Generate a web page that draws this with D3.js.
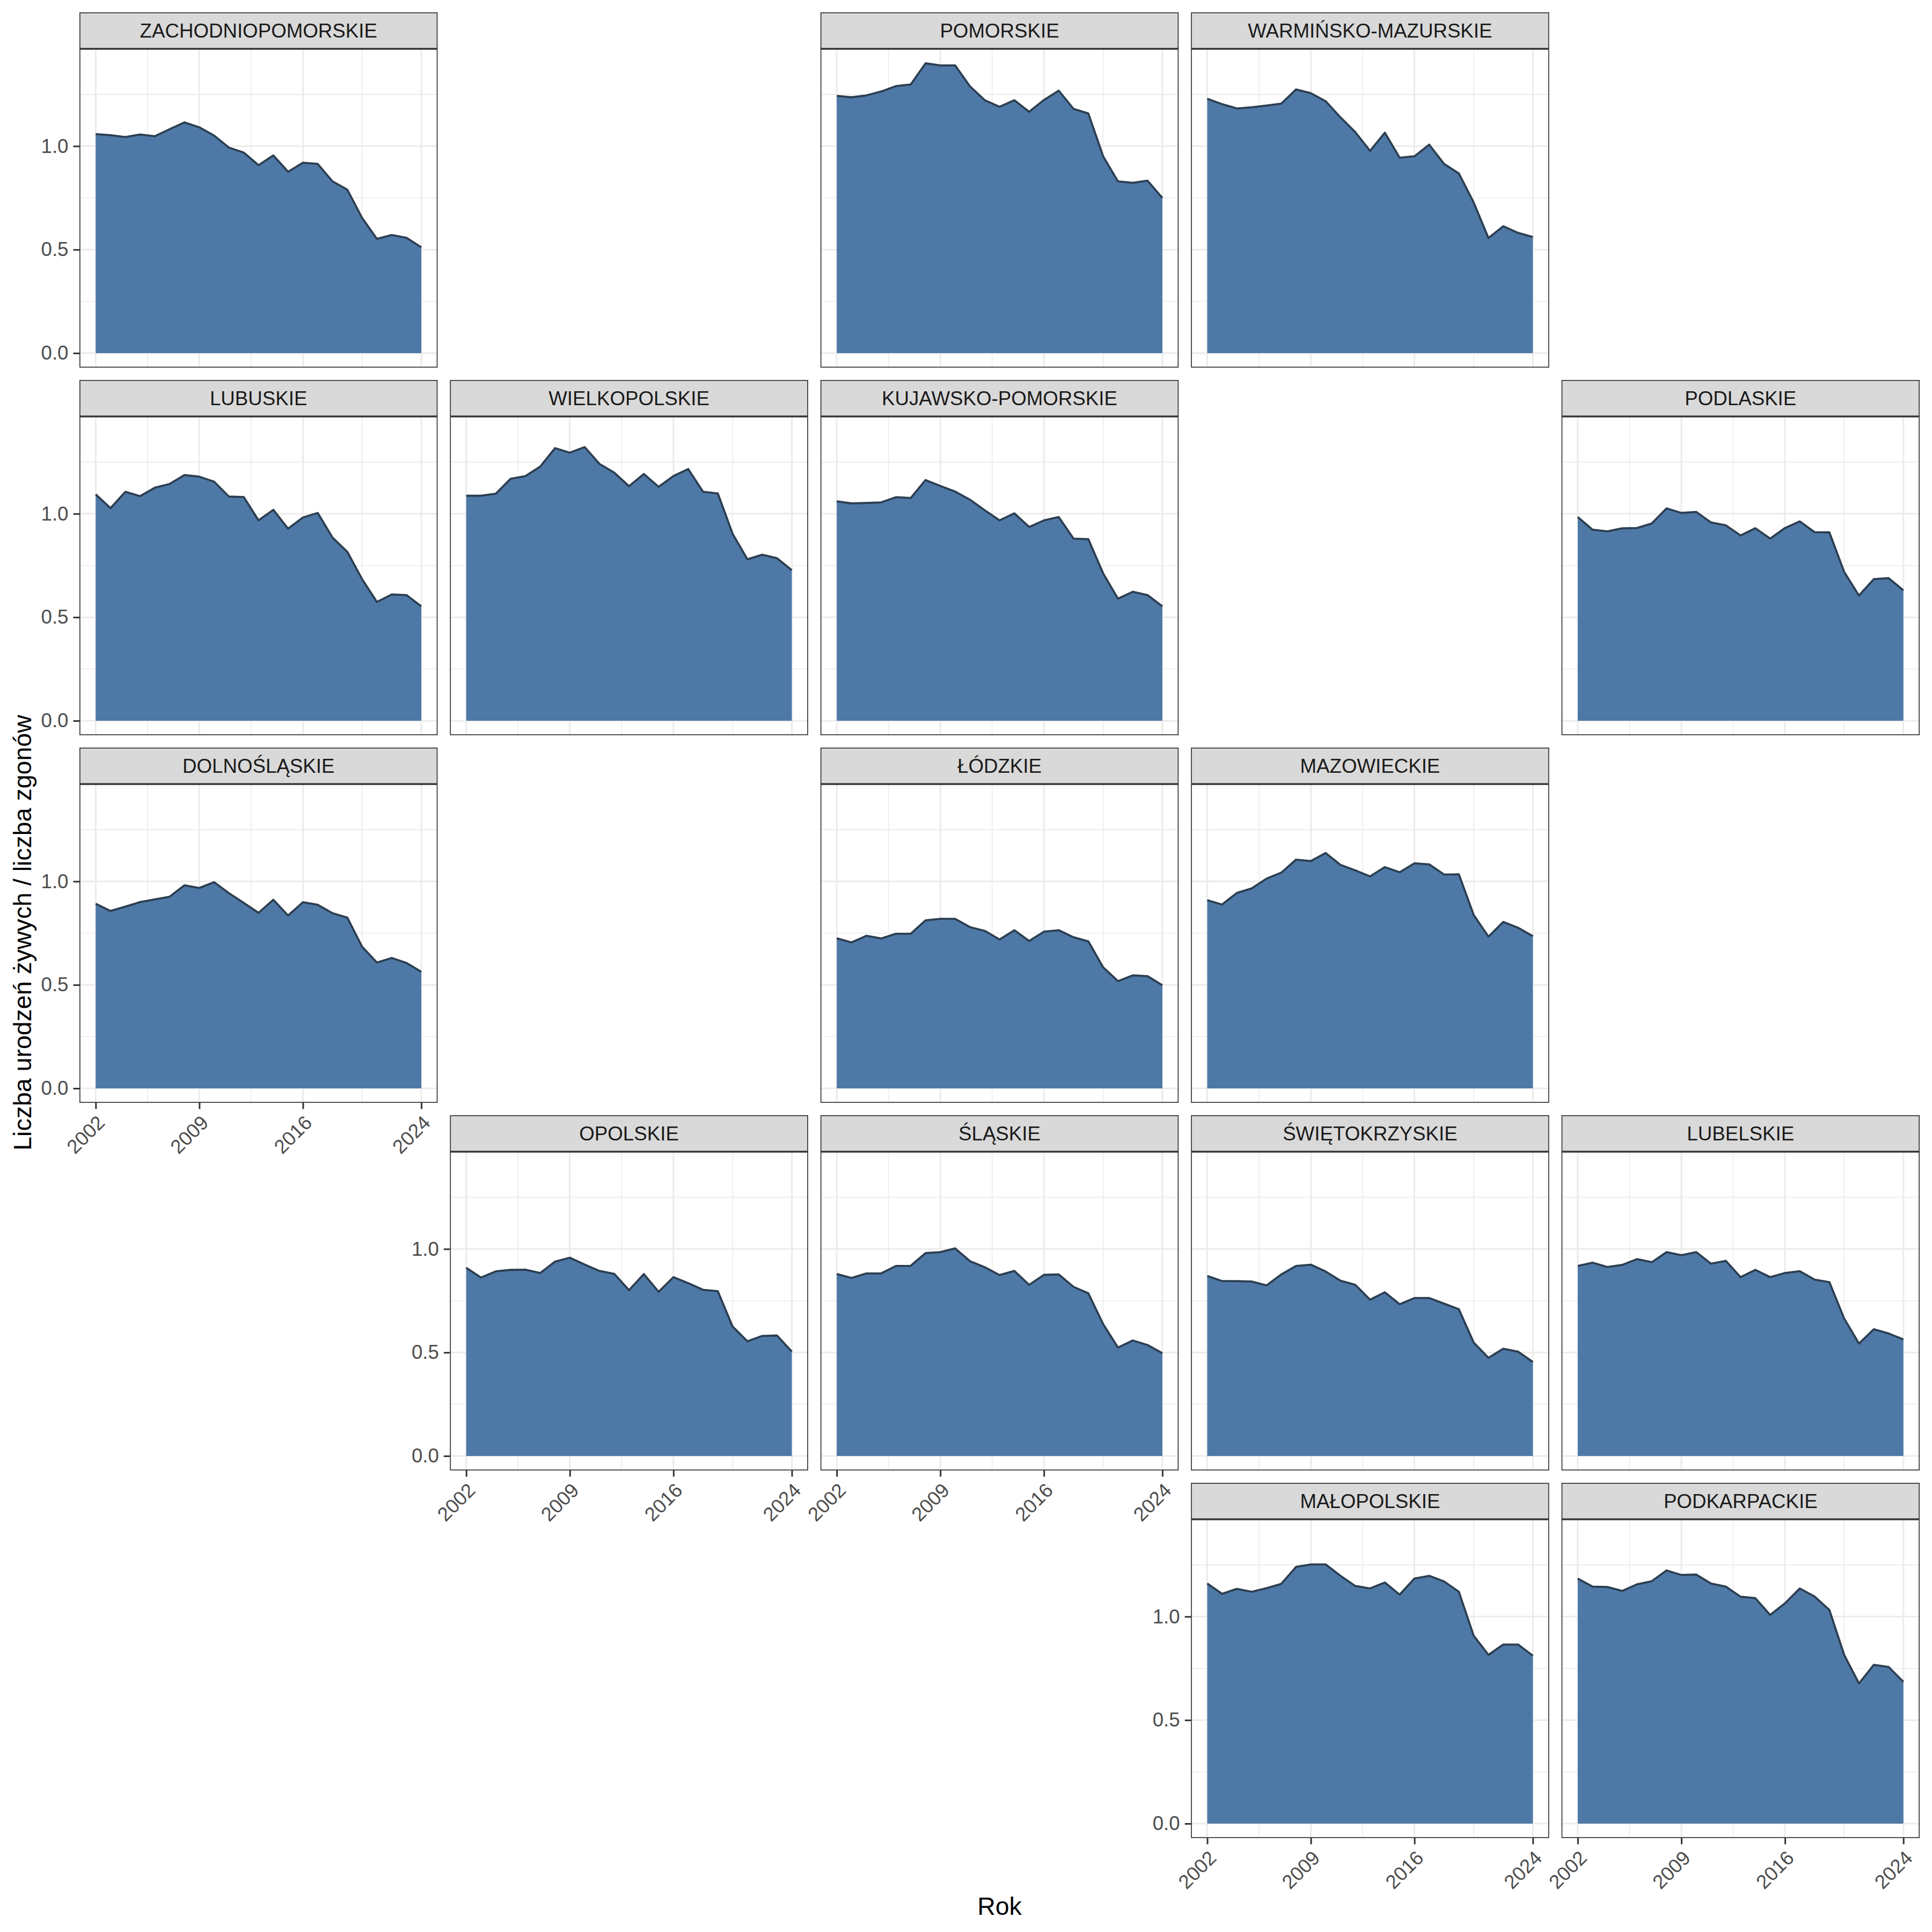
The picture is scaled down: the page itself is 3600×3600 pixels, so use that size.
<!DOCTYPE html>
<html>
<head>
<meta charset="utf-8">
<script src="https://cdn.jsdelivr.net/npm/d3@7"></script>
<style>
  body { margin: 0; background: #fff; }
</style>
</head>
<body>
<div id="chart"></div>
<script>
(function() {

  // ---- data: births / deaths ratio by voivodeship, 2002-2024 ----
  var years = [2002, 2003, 2004, 2005, 2006, 2007, 2008, 2009, 2010, 2011, 2012,
               2013, 2014, 2015, 2016, 2017, 2018, 2019, 2020, 2021, 2022, 2023, 2024]

  var zachodniopomorskie = [1.058, 1.053, 1.044, 1.056, 1.048, 1.082, 1.115, 1.091, 1.051, 0.993, 0.969, 0.908, 0.955, 0.876, 0.920, 0.914, 0.830, 0.790, 0.653, 0.552, 0.571, 0.557, 0.511]
  var pomorskie = [1.243, 1.236, 1.245, 1.264, 1.290, 1.298, 1.400, 1.390, 1.390, 1.289, 1.222, 1.190, 1.222, 1.166, 1.223, 1.268, 1.180, 1.158, 0.951, 0.830, 0.823, 0.833, 0.750]
  var warminskoMazurskie = [1.229, 1.203, 1.182, 1.188, 1.196, 1.205, 1.274, 1.256, 1.217, 1.139, 1.068, 0.977, 1.065, 0.944, 0.951, 1.007, 0.914, 0.868, 0.728, 0.556, 0.613, 0.581, 0.561]
  var lubuskie = [1.094, 1.027, 1.106, 1.085, 1.126, 1.144, 1.187, 1.179, 1.155, 1.083, 1.081, 0.968, 1.019, 0.928, 0.982, 1.004, 0.885, 0.816, 0.684, 0.574, 0.610, 0.607, 0.553]
  var wielkopolskie = [1.087, 1.087, 1.097, 1.169, 1.182, 1.228, 1.317, 1.295, 1.322, 1.241, 1.199, 1.133, 1.192, 1.130, 1.182, 1.216, 1.106, 1.098, 0.903, 0.780, 0.802, 0.785, 0.727]
  var kujawskoPomorskie = [1.060, 1.050, 1.052, 1.055, 1.080, 1.076, 1.163, 1.134, 1.107, 1.068, 1.017, 0.968, 1.002, 0.936, 0.968, 0.984, 0.880, 0.877, 0.712, 0.590, 0.623, 0.607, 0.553]
  var podlaskie = [0.984, 0.923, 0.915, 0.930, 0.931, 0.953, 1.026, 1.004, 1.009, 0.958, 0.944, 0.895, 0.930, 0.880, 0.931, 0.963, 0.911, 0.910, 0.719, 0.605, 0.684, 0.689, 0.630]
  var dolnoslaskie = [0.892, 0.857, 0.878, 0.900, 0.913, 0.926, 0.981, 0.968, 0.996, 0.943, 0.896, 0.848, 0.911, 0.835, 0.899, 0.887, 0.846, 0.825, 0.684, 0.608, 0.630, 0.606, 0.563]
  var lodzkie = [0.725, 0.705, 0.737, 0.724, 0.747, 0.747, 0.812, 0.819, 0.819, 0.779, 0.761, 0.719, 0.764, 0.712, 0.757, 0.764, 0.730, 0.710, 0.585, 0.518, 0.546, 0.542, 0.498]
  var mazowieckie = [0.909, 0.888, 0.944, 0.966, 1.013, 1.042, 1.105, 1.098, 1.137, 1.080, 1.053, 1.024, 1.069, 1.044, 1.087, 1.082, 1.033, 1.034, 0.838, 0.733, 0.804, 0.776, 0.735]
  var opolskie = [0.909, 0.862, 0.892, 0.899, 0.900, 0.884, 0.939, 0.958, 0.925, 0.894, 0.880, 0.801, 0.879, 0.793, 0.864, 0.835, 0.803, 0.796, 0.625, 0.554, 0.580, 0.582, 0.504]
  var slaskie = [0.879, 0.860, 0.882, 0.882, 0.918, 0.919, 0.980, 0.985, 1.003, 0.941, 0.912, 0.874, 0.894, 0.827, 0.875, 0.877, 0.817, 0.786, 0.637, 0.524, 0.558, 0.536, 0.497]
  var swietokrzyskie = [0.870, 0.845, 0.845, 0.843, 0.824, 0.877, 0.918, 0.924, 0.891, 0.847, 0.827, 0.755, 0.791, 0.733, 0.763, 0.763, 0.736, 0.709, 0.548, 0.474, 0.518, 0.504, 0.454]
  var lubelskie = [0.918, 0.934, 0.913, 0.923, 0.951, 0.936, 0.985, 0.970, 0.985, 0.929, 0.943, 0.864, 0.899, 0.864, 0.884, 0.893, 0.852, 0.840, 0.664, 0.543, 0.612, 0.592, 0.563]
  var malopolskie = [1.160, 1.110, 1.134, 1.120, 1.137, 1.158, 1.240, 1.252, 1.252, 1.197, 1.148, 1.136, 1.165, 1.106, 1.184, 1.197, 1.170, 1.120, 0.908, 0.815, 0.865, 0.865, 0.811]
  var podkarpackie = [1.184, 1.145, 1.143, 1.124, 1.156, 1.171, 1.223, 1.201, 1.203, 1.160, 1.145, 1.096, 1.089, 1.008, 1.064, 1.136, 1.097, 1.032, 0.815, 0.677, 0.767, 0.757, 0.685]

  var regionNames = ["ZACHODNIOPOMORSKIE", "POMORSKIE", "WARMIŃSKO-MAZURSKIE",
                     "LUBUSKIE", "WIELKOPOLSKIE", "KUJAWSKO-POMORSKIE", "PODLASKIE",
                     "DOLNOŚLĄSKIE", "ŁÓDZKIE", "MAZOWIECKIE",
                     "OPOLSKIE", "ŚLĄSKIE", "ŚWIĘTOKRZYSKIE", "LUBELSKIE",
                     "MAŁOPOLSKIE", "PODKARPACKIE"]
  var regionValues = [zachodniopomorskie, pomorskie, warminskoMazurskie,
                      lubuskie, wielkopolskie, kujawskoPomorskie, podlaskie,
                      dolnoslaskie, lodzkie, mazowieckie,
                      opolskie, slaskie, swietokrzyskie, lubelskie,
                      malopolskie, podkarpackie]
  // geo grid (row, col) of each voivodeship
  var gridRow = [0, 0, 0, 1, 1, 1, 1, 2, 2, 2, 3, 3, 3, 3, 4, 4]
  var gridCol = [0, 2, 3, 0, 1, 2, 4, 0, 2, 3, 1, 2, 3, 4, 3, 4]

  var xBreaks = [2002, 2009, 2016, 2024]
  var xMinor = [2005.5, 2012.5, 2020]
  var yBreaks = [0, 0.5, 1.0]
  var yMinor = [0.25, 0.75, 1.25]

  var yTitle = "Liczba urodzeń żywych / liczba zgonów"
  var xTitle = "Rok"

  // ---- layout ----
  var width = 3600,
      height = 3600
  var left0 = 148, right0 = 3577, top0 = 23
  var gap = 23, stripH = 68, panelH = 594, nCols = 5
  var panelW = (right0 - left0 - gap * (nCols - 1)) / nCols
  var rowStep = stripH + panelH + gap

  var textSize = 36.7, titleSize = 46.5
  var font = "'Liberation Sans', Arial, Helvetica, sans-serif"

  var svg = d3.select("#chart")
    .append("svg")
    .attr("width", width)
    .attr("height", height)
    .style("font-family", font)

  svg.append("rect").attr("width", width).attr("height", height).attr("fill", "#fff")

  var span = d3.max(years) - d3.min(years)
  var xScale = d3.scaleLinear()
    .domain([d3.min(years) - 0.05 * span, d3.max(years) + 0.05 * span])
    .range([0, panelW])

  var yMax = d3.max(regionValues, function(v) { return d3.max(v) })
  var yScale = d3.scaleLinear()
    .domain([-0.05 * yMax, yMax * 1.05])
    .range([panelH, 0])

  var area = d3.area()
    .x(function(d, i) { return xScale(years[i]) })
    .y0(yScale(0))
    .y1(function(d) { return yScale(d) })

  var line = d3.line()
    .x(function(d, i) { return xScale(years[i]) })
    .y(function(d) { return yScale(d) })

  var regions = regionNames.map(function(name, i) {
    return { name: name, values: regionValues[i], row: gridRow[i], col: gridCol[i] }
  })

  regions.forEach(function(r) {
    var px = left0 + r.col * (panelW + gap)
    var py = top0 + r.row * rowStep + stripH

    var hasLeft = !regions.some(function(o) { return o.row === r.row && o.col < r.col })
    var hasBottom = !regions.some(function(o) { return o.col === r.col && o.row > r.row })

    var g = svg.append("g").attr("transform", "translate(" + px + "," + py + ")")

    g.append("rect").attr("width", panelW).attr("height", panelH).attr("fill", "#fff")

    // grid lines
    g.selectAll(".xminor").data(xMinor).enter().append("line")
      .attr("x1", function(d) { return xScale(d) }).attr("x2", function(d) { return xScale(d) })
      .attr("y1", 0).attr("y2", panelH)
      .attr("stroke", "#ebebeb").attr("stroke-width", 1.6)
    g.selectAll(".yminor").data(yMinor).enter().append("line")
      .attr("y1", function(d) { return yScale(d) }).attr("y2", function(d) { return yScale(d) })
      .attr("x1", 0).attr("x2", panelW)
      .attr("stroke", "#ebebeb").attr("stroke-width", 1.6)
    g.selectAll(".xmajor").data(xBreaks).enter().append("line")
      .attr("x1", function(d) { return xScale(d) }).attr("x2", function(d) { return xScale(d) })
      .attr("y1", 0).attr("y2", panelH)
      .attr("stroke", "#ebebeb").attr("stroke-width", 3)
    g.selectAll(".ymajor").data(yBreaks).enter().append("line")
      .attr("y1", function(d) { return yScale(d) }).attr("y2", function(d) { return yScale(d) })
      .attr("x1", 0).attr("x2", panelW)
      .attr("stroke", "#ebebeb").attr("stroke-width", 3)

    // area + upper outline
    g.append("path")
      .datum(r.values)
      .attr("d", area)
      .attr("fill", "#4e79a7")
    g.append("path")
      .datum(r.values)
      .attr("d", line)
      .attr("fill", "none")
      .attr("stroke", "#2c3e50")
      .attr("stroke-width", 3.8)
      .attr("stroke-linejoin", "round")

    // panel border
    g.append("rect")
      .attr("x", 0.85).attr("y", 0.85)
      .attr("width", panelW - 1.7).attr("height", panelH - 1.7)
      .attr("fill", "none").attr("stroke", "#333333").attr("stroke-width", 1.7)

    // strip
    g.append("rect")
      .attr("x", 0.85).attr("y", -stripH + 0.85)
      .attr("width", panelW - 1.7).attr("height", stripH - 1.7)
      .attr("fill", "#d9d9d9").attr("stroke", "#333333").attr("stroke-width", 1.7)
    g.append("text")
      .attr("x", panelW / 2).attr("y", -stripH / 2)
      .attr("dy", "0.36em")
      .attr("text-anchor", "middle")
      .attr("font-size", textSize)
      .attr("fill", "#1a1a1a")
      .text(r.name)

    if (hasLeft) {
      var ya = g.append("g")
        .call(d3.axisLeft(yScale).tickValues(yBreaks).tickFormat(d3.format(".1f")).tickSize(11.5).tickPadding(9))
      ya.select(".domain").remove()
      ya.selectAll("line").attr("stroke", "#333333").attr("stroke-width", 3)
      ya.selectAll("text").attr("font-size", textSize).attr("fill", "#4d4d4d").attr("font-family", font)
    }

    if (hasBottom) {
      var xa = g.append("g")
        .attr("transform", "translate(0," + panelH + ")")
        .call(d3.axisBottom(xScale).tickValues(xBreaks).tickFormat(d3.format("d")).tickSize(11.5))
      xa.select(".domain").remove()
      xa.selectAll("line").attr("stroke", "#333333").attr("stroke-width", 3)
      xa.selectAll("text")
        .attr("y", 0).attr("dy", "0.72em")
        .attr("transform", "translate(0,20.5) rotate(-45)")
        .attr("text-anchor", "end")
        .attr("font-size", textSize).attr("fill", "#4d4d4d").attr("font-family", font)
    }
  })

  // axis titles
  var panelsBottom = top0 + 4 * rowStep + stripH + panelH
  svg.append("text")
    .attr("transform", "translate(58," + ((top0 + panelsBottom) / 2 + 14) + ") rotate(-90)")
    .attr("text-anchor", "middle")
    .attr("font-size", titleSize)
    .attr("fill", "#000")
    .text(yTitle)

  svg.append("text")
    .attr("x", (left0 + right0) / 2)
    .attr("y", 3568)
    .attr("text-anchor", "middle")
    .attr("font-size", titleSize)
    .attr("fill", "#000")
    .text(xTitle)

})()
</script>
</body>
</html>
